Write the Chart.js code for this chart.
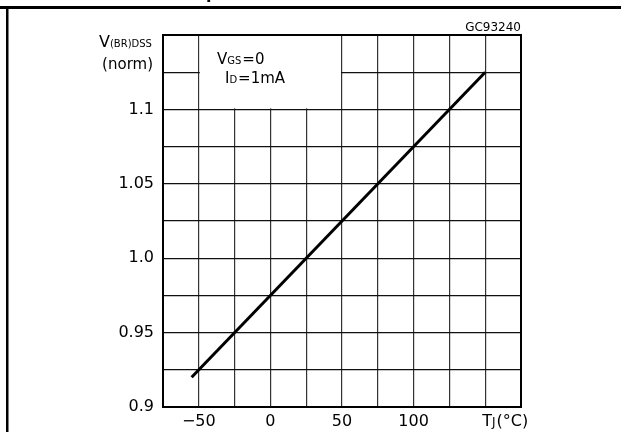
<!DOCTYPE html>
<html>
<head>
<meta charset="utf-8">
<script src="https://cdn.jsdelivr.net/npm/chart.js@4/dist/chart.umd.min.js"></script>
<style>
html,body{margin:0;padding:0;background:#fff;}
canvas{display:block;}
</style>
</head>
<body>
<canvas id="c" width="621" height="432"></canvas>
<script>
// ---- data ----
const lineT = [-55, 150];          // junction temperature (°C)
const lineV = [0.92, 1.125];       // V(BR)DSS normalized
const xTickValues = [-50, 0, 50, 100];
const xTickLabels = ['\u221250', '0', '50', '100'];
const yTickValues = [0.9, 0.95, 1.0, 1.05, 1.1];
const yTickLabels = ['0.9', '0.95', '1.0', '1.05', '1.1'];
const xMin = -75, xMax = 175, xStep = 25;
const yMin = 0.9, yMax = 1.15, yStep = 0.025;
const boxX = [-50, 50];   // legend box (blank grid area)
const boxY = [1.1, 1.15];

const FONT = "'DejaVu Sans', sans-serif";

function findLabel(vals, labels, v) {
  for (let i = 0; i < vals.length; i++) if (Math.abs(vals[i] - v) < 1e-6) return labels[i];
  return '';
}

const decor = {
  id: 'decor',
  beforeDatasetsDraw(chart) {
    const ctx = chart.ctx, xs = chart.scales.x, ys = chart.scales.y;
    const x1 = xs.getPixelForValue(boxX[0]) + 1, x2 = xs.getPixelForValue(boxX[1]) - 1;
    const y1 = ys.getPixelForValue(boxY[1]) + 1, y2 = ys.getPixelForValue(boxY[0]) - 1;
    ctx.save();
    ctx.fillStyle = '#fff';
    ctx.fillRect(x1, y1, x2 - x1, y2 - y1);
    ctx.restore();
  },
  afterDraw(chart) {
    const ctx = chart.ctx, a = chart.chartArea, xs = chart.scales.x;
    ctx.save();
    // plot frame
    ctx.strokeStyle = '#000';
    ctx.lineWidth = 2;
    ctx.strokeRect(a.left, a.top, a.right - a.left, a.bottom - a.top);
    // page frame
    ctx.fillStyle = '#000';
    ctx.fillRect(0, 6, 621, 3);
    ctx.fillRect(6, 6, 2.5, 426);
    // cut-off heading fragment
    ctx.font = 'bold 16px ' + FONT;
    ctx.textBaseline = 'alphabetic';
    ctx.textAlign = 'left';
    ctx.fillText('p', 206, -1);

    ctx.fillStyle = '#000';
    ctx.textBaseline = 'alphabetic';
    // figure code
    ctx.font = '12px ' + FONT;
    ctx.textAlign = 'right';
    ctx.fillText('GC93240', a.right, 31);

    // y axis title
    ctx.textAlign = 'left';
    let x = 99;
    ctx.font = '16px ' + FONT;
    ctx.fillText('V', x, 47); x += ctx.measureText('V').width;
    ctx.font = '10px ' + FONT;
    ctx.fillText('(BR)DSS', x, 47);
    ctx.font = '15px ' + FONT;
    ctx.textAlign = 'right';
    ctx.fillText('(norm)', 153, 69);

    // legend text
    ctx.textAlign = 'left';
    x = 217;
    ctx.font = '15px ' + FONT;
    ctx.fillText('V', x, 64); x += ctx.measureText('V').width;
    ctx.font = '10px ' + FONT;
    ctx.fillText('GS', x, 64); x += ctx.measureText('GS').width;
    ctx.font = '15px ' + FONT;
    ctx.fillText('=0', x + 1, 64);
    x = 225;
    ctx.fillText('I', x, 83); x += ctx.measureText('I').width;
    ctx.font = '10px ' + FONT;
    ctx.fillText('D', x, 83); x += ctx.measureText('D').width;
    ctx.font = '15px ' + FONT;
    ctx.fillText('=1mA', x + 1, 83);

    // x axis title in place of the 150 tick
    const px = xs.getPixelForValue(150);
    x = px - 3;
    ctx.font = '16px ' + FONT;
    ctx.fillText('T', x, 426); x += ctx.measureText('T').width;
    ctx.font = '12px ' + FONT;
    ctx.fillText('J', x, 426); x += ctx.measureText('J').width;
    ctx.font = '16px ' + FONT;
    ctx.fillText('(\u00B0C)', x + 1, 426);
    ctx.restore();
  }
};

new Chart(document.getElementById('c'), {
  type: 'line',
  data: {
    datasets: [{
      data: lineT.map((t, i) => ({x: t, y: lineV[i]})),
      borderColor: '#000',
      borderWidth: 3,
      pointRadius: 0,
      fill: false,
      tension: 0
    }]
  },
  options: {
    responsive: false,
    animation: false,
    devicePixelRatio: 1,
    layout: {padding: {left: 0, right: 100, top: 35, bottom: 0}},
    plugins: {legend: {display: false}, tooltip: {enabled: false}},
    scales: {
      x: {
        type: 'linear', min: xMin, max: xMax,
        afterFit(s) { s.height = 25; },
        border: {display: false},
        grid: {color: '#333', lineWidth: 1.2, drawTicks: false},
        ticks: {
          stepSize: xStep, autoSkip: false, maxRotation: 0, padding: 5,
          color: '#000', font: {family: FONT, size: 16},
          callback: v => findLabel(xTickValues, xTickLabels, v)
        }
      },
      y: {
        type: 'linear', min: yMin, max: yMax,
        afterFit(s) { s.width = 163; },
        border: {display: false},
        grid: {color: '#111', lineWidth: 1.2, drawTicks: false},
        ticks: {
          stepSize: yStep, autoSkip: false, padding: 9,
          color: '#000', font: {family: FONT, size: 16},
          callback: v => findLabel(yTickValues, yTickLabels, v)
        }
      }
    }
  },
  plugins: [decor]
});
</script>
</body>
</html>
